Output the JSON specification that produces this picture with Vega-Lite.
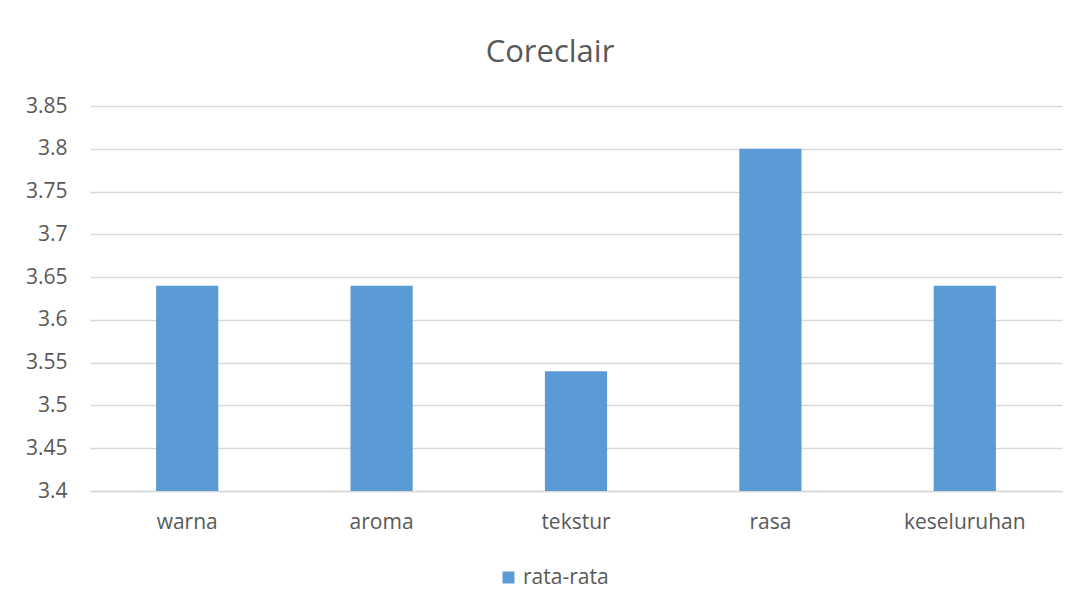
{
  "$schema": "https://vega.github.io/schema/vega-lite/v6.json",
  "autosize": "none",
  "width": 972,
  "height": 385,
  "padding": {"left": 90, "top": 106, "right": 23, "bottom": 120},
  "background": "white",
  "title": {
    "text": "Coreclair",
    "fontSize": 31,
    "font": "Open Sans",
    "fontWeight": "normal",
    "color": "#595959",
    "offset": 26,
    "dx": -26
  },
  "data": {
    "values": [
      {"kategori": "warna", "nilai": 3.64, "seri": "rata-rata"},
      {"kategori": "aroma", "nilai": 3.64, "seri": "rata-rata"},
      {"kategori": "tekstur", "nilai": 3.54, "seri": "rata-rata"},
      {"kategori": "rasa", "nilai": 3.8, "seri": "rata-rata"},
      {"kategori": "keseluruhan", "nilai": 3.64, "seri": "rata-rata"}
    ]
  },
  "mark": {"type": "bar", "clip": true},
  "encoding": {
    "x": {
      "field": "kategori",
      "type": "nominal",
      "sort": null,
      "title": null,
      "scale": {"paddingInner": 0.68, "paddingOuter": 0.34},
      "axis": {
        "labelAngle": 0,
        "ticks": false,
        "domainColor": "#D9D9D9",
        "domainWidth": 1.5,
        "labelPadding": 20,
        "labelFontSize": 21,
        "labelFont": "Open Sans",
        "labelColor": "#595959"
      }
    },
    "y": {
      "field": "nilai",
      "type": "quantitative",
      "title": null,
      "scale": {"domain": [3.4, 3.85], "zero": false, "nice": false},
      "axis": {
        "values": [3.4, 3.45, 3.5, 3.55, 3.6, 3.65, 3.7, 3.75, 3.8, 3.85],
        "labelExpr": "'' + datum.value",
        "domain": false,
        "ticks": false,
        "gridColor": "#D9D9D9",
        "gridWidth": 1.3,
        "labelPadding": 23,
        "labelFontSize": 21,
        "labelFont": "Open Sans",
        "labelColor": "#595959"
      }
    },
    "color": {
      "field": "seri",
      "type": "nominal",
      "scale": {"range": ["#5B9BD5"]},
      "legend": {
        "title": null,
        "orient": "none",
        "legendX": 408,
        "legendY": 461,
        "direction": "horizontal",
        "symbolType": "square",
        "symbolSize": 144,
        "symbolStrokeWidth": 0,
        "labelFontSize": 21,
        "labelFont": "Open Sans",
        "labelColor": "#595959"
      }
    }
  },
  "config": {"view": {"stroke": null}}
}
